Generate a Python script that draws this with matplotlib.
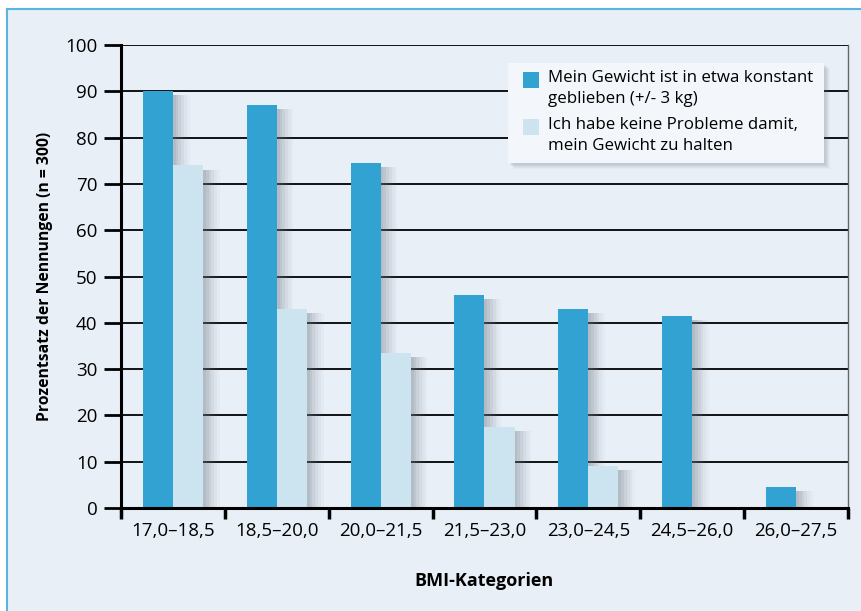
import matplotlib
matplotlib.use("Agg")
import matplotlib.pyplot as plt
import matplotlib.patheffects as pe
from matplotlib.patches import Rectangle
import numpy as np

plt.rcParams['font.family'] = ['Open Sans', 'DejaVu Sans']

categories = ["17,0–18,5", "18,5–20,0", "20,0–21,5", "21,5–23,0",
              "23,0–24,5", "24,5–26,0", "26,0–27,5"]
konstant = [90, 87, 74.5, 46, 43, 41.5, 4.5]
keine_probleme = [74, 43, 33.5, 17.5, 9, 0, 0]
series_labels = ["Mein Gewicht ist in etwa konstant\ngeblieben (+/- 3 kg)",
                 "Ich habe keine Probleme damit,\nmein Gewicht zu halten"]
yticks = list(range(0, 101, 10))

DARK = "#31a2d1"
LIGHT = "#cce4f0"
BG = "#e8eff7"
FRAME = "#5ab4e0"

W, H = 861, 611
fig = plt.figure(figsize=(W / 100, H / 100), dpi=100)
fig.patch.set_facecolor("white")


def fx(px):
    return px / W


def fy(py):
    return (H - py) / H


# panel background with a coloured edge at top and left
fig.patches.append(Rectangle((fx(7), 0), 1 - fx(7), fy(9),
                             transform=fig.transFigure, facecolor=BG,
                             edgecolor="none", zorder=-5))
fig.lines.append(plt.Line2D([fx(7), 1], [fy(9)] * 2,
                            transform=fig.transFigure, color=FRAME, lw=1.5, zorder=-4))
fig.lines.append(plt.Line2D([fx(7)] * 2, [0, fy(9)],
                            transform=fig.transFigure, color=FRAME, lw=1.5, zorder=-4))

ax = fig.add_axes([fx(121), fy(508), fx(848) - fx(121), fy(45) - fy(508)])
ax.set_facecolor("none")

x = np.arange(len(categories))
bw = 0.29

# soft drop shadow to the right of each bar, built from stacked offsets
shadow = [pe.SimplePatchShadow(offset=(o, -3), shadow_rgbFace="#6f7a86", alpha=a)
          for o, a in [(12, 0.04), (10, 0.06), (8, 0.08), (6, 0.10), (4, 0.12), (2, 0.12)]]
shadow.append(pe.Normal())

b1 = ax.bar(x - bw / 2, konstant, bw, color=DARK, zorder=3)
b2 = ax.bar(x + bw / 2, keine_probleme, bw, color=LIGHT, zorder=3)
for p in list(b1) + list(b2):
    if p.get_height() > 0:
        p.set_path_effects(shadow)

ax.set_xlim(-0.5, len(categories) - 0.5)
ax.set_ylim(0, 100)
for v in yticks[1:]:
    ax.axhline(v, color="black", lw=1.3, zorder=1)

ax.set_yticks(yticks)
ax.tick_params(axis="y", direction="out", length=12, width=2, labelsize=13.5,
               pad=5, colors="black")
ax.set_xticks(np.arange(len(categories) + 1) - 0.5)
ax.set_xticklabels([])
ax.set_xticks(x, minor=True)
ax.set_xticklabels(categories, minor=True, fontsize=13.5)
ax.tick_params(axis="x", which="major", direction="out", length=8, width=2.5)
ax.tick_params(axis="x", which="minor", length=0, pad=10)

for s in ["left", "bottom"]:
    ax.spines[s].set_linewidth(2.2)
    ax.spines[s].set_zorder(5)
ax.spines["top"].set_visible(False)
ax.spines["right"].set_color("#666666")
ax.spines["right"].set_linewidth(1)

ax.set_ylabel("Prozentsatz der Nennungen (n = 300)", fontsize=11.3, fontweight="bold")
ax.yaxis.set_label_coords(-0.094, 0.5)
ax.set_xlabel("BMI-Kategorien", fontsize=13, fontweight="bold", labelpad=23)

# legend panel: light box with a soft shadow, swatches aligned to the first text line
box_l, box_t, box_r, box_b = 508, 63, 824, 163
for d, a in [(6, 0.04), (5, 0.05), (4, 0.06), (3, 0.07), (2, 0.08)]:
    fig.patches.append(Rectangle((fx(box_l + d), fy(box_b + d)), fx(box_r) - fx(box_l),
                                 fy(box_t) - fy(box_b), transform=fig.transFigure,
                                 facecolor="#5f6a75", alpha=a, edgecolor="none", zorder=8))
fig.patches.append(Rectangle((fx(box_l), fy(box_b)), fx(box_r) - fx(box_l),
                             fy(box_t) - fy(box_b), transform=fig.transFigure,
                             facecolor="#f3f6fa", edgecolor="none", zorder=9))
for color, label, top in [(DARK, series_labels[0], 72), (LIGHT, series_labels[1], 119)]:
    fig.patches.append(Rectangle((fx(523), fy(top + 16)), fx(16), fy(0) - fy(16),
                                 transform=fig.transFigure, facecolor=color,
                                 edgecolor="none", zorder=10))
    fig.text(fx(548), fy(top - 2), label, transform=fig.transFigure, fontsize=12.2,
             ha="left", va="top", linespacing=1.42, zorder=11)

fig.savefig("out.png", dpi=100, facecolor=fig.get_facecolor())
